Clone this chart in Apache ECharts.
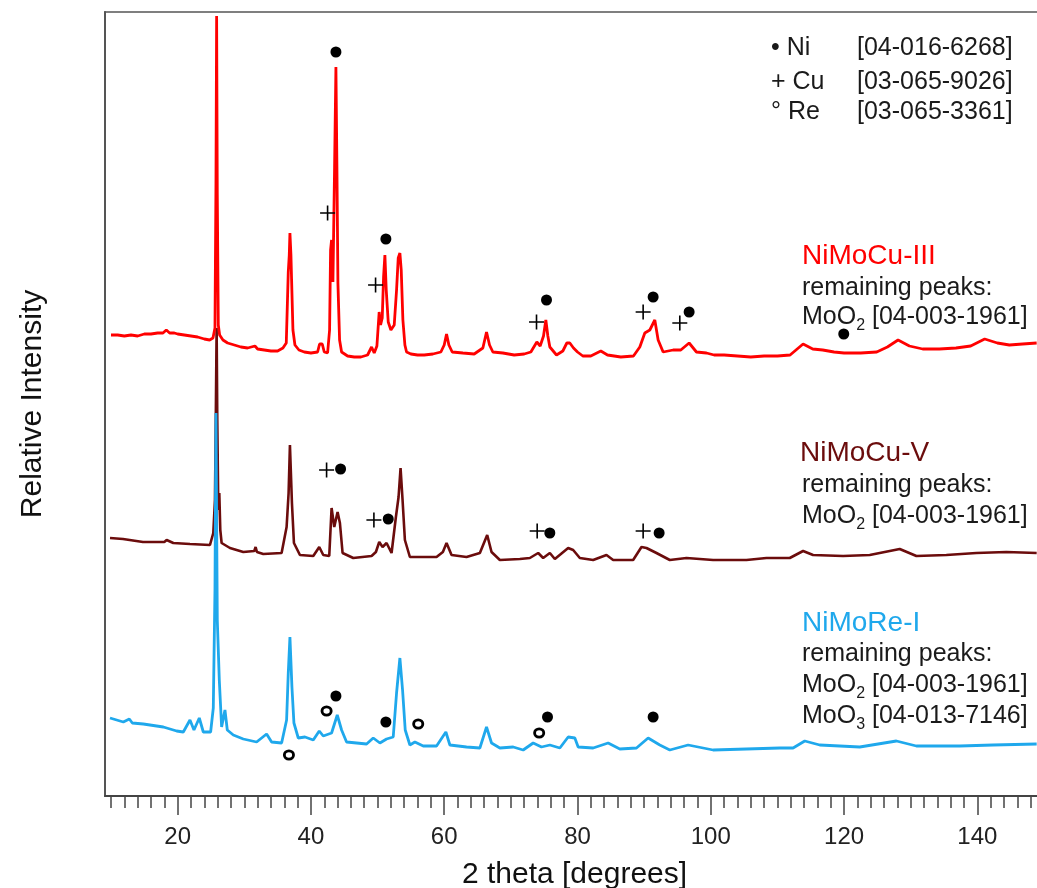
<!DOCTYPE html>
<html><head><meta charset="utf-8">
<script src="https://cdn.jsdelivr.net/npm/echarts@6/dist/echarts.min.js"></script>
<style>html,body{margin:0;padding:0;background:#fff}#c{width:1037px;height:888px}</style>
</head><body><div id="c"></div>
<script>
// ---------- data (2theta in degrees, intensity in arbitrary units above each pattern's floor) ----------
const X_MIN = 9.1, X_MAX = 150;
const Y_MIN = 0, Y_MAX = 784;
const MAJOR_TICKS = [20, 40, 60, 80, 100, 120, 140];
const MINOR_TICKS = [10,12,14,16,18,22,24,26,28,30,32,34,36,38,42,44,46,48,50,52,54,56,58,62,64,66,68,70,72,74,76,78,82,84,86,88,90,92,94,96,98,102,104,106,108,110,112,114,116,118,122,124,126,128,130,132,134,136,138,142,144,146,148];

const SAMPLE_NAMES = ['NiMoCu-III', 'NiMoCu-V', 'NiMoRe-I'];
const OFFSET_III = 440, OFFSET_V = 240, OFFSET_RE = 45;

const nimocu3 = [
[10.0,21],[11.0,21],[12.0,20],[13.0,21],[14.0,20],[15.0,22],[16.0,22],[17.0,23],[17.8,23],[18.3,26],[18.8,23],[19.5,23],[20.0,22],[21.0,21],[22.0,20],[23.0,19],[24.0,17],[24.8,16],[25.3,18],[25.6,28],[25.75,173],[25.85,340],[25.95,161],[26.1,31],[26.3,21],[26.8,16],[27.5,13],[28.5,11],[29.5,9],[30.5,8],[31.6,10],[32.0,7],[33.0,6],[34.0,5],[35.0,5],[35.8,8],[36.3,13],[36.6,84],[36.75,101],[36.85,123],[37.0,101],[37.1,76],[37.3,26],[37.6,11],[38.2,6],[39.0,4],[40.0,3],[41.0,4],[41.3,12],[41.7,12],[42.0,4],[42.5,3],[42.8,26],[42.95,106],[43.1,116],[43.3,74],[43.55,189],[43.75,289],[43.9,189],[44.05,73],[44.3,16],[44.6,4],[45.5,0],[46.5,-1],[47.5,-1],[48.5,1],[49.1,9],[49.5,3],[49.9,10],[50.24,44],[50.45,31],[50.7,38],[50.9,79],[51.1,101],[51.3,66],[51.6,34],[52.0,26],[52.5,31],[52.85,66],[53.1,98],[53.35,103],[53.55,86],[53.8,36],[54.1,11],[54.35,4],[55.0,2],[56.0,1],[57.0,1],[58.3,2],[59.5,4],[60.0,11],[60.35,22],[60.7,11],[61.2,4],[62.8,3],[64.5,2],[65.8,8],[66.35,24],[66.8,11],[67.3,4],[68.8,3],[70.5,1],[72.0,2],[73.0,4],[73.9,14],[74.4,10],[74.9,20],[75.25,36],[75.55,20],[75.85,9],[76.85,1],[77.8,5],[78.4,13],[78.85,13],[79.4,8],[80.0,4],[80.8,0],[82.0,0],[83.5,5],[84.5,1],[86.5,-1],[88.4,0],[89.35,9],[90.1,23],[90.85,26],[91.6,36],[92.1,16],[92.85,4],[94.35,6],[95.5,6],[96.75,13],[97.85,4],[99.35,3],[100.5,1],[102,1],[104,0],[106,-1],[108,0],[110,0],[111.9,1],[113.85,12],[115.3,7],[116.8,6],[118.5,4],[120,3],[122.5,3],[124.9,4],[126.5,9],[128.1,16],[129.8,10],[131.8,7],[134.3,7],[136.8,8],[139,10],[141.1,17],[143,13],[144.8,11],[146.8,12],[148.9,13]
];

const nimocu5 = [
[9.85,18],[11.8,17],[14.8,14],[18.0,14],[18.35,16],[19.35,13],[21.85,12],[24.85,11],[25.35,23],[25.6,56],[25.75,156],[25.85,228],[25.95,136],[26.1,46],[26.25,63],[26.4,26],[26.6,13],[27.85,8],[29.85,4],[31.5,5],[31.7,9],[31.9,4],[32.85,2],[35.6,3],[36.35,29],[36.65,63],[36.85,111],[37.15,53],[37.45,13],[38.35,1],[40.35,0],[41.25,9],[41.85,1],[42.75,0],[43.1,48],[43.5,29],[44.0,44],[44.35,33],[44.75,3],[46.35,-2],[49.1,0],[49.75,4],[50.25,14],[50.75,9],[51.35,13],[52.1,3],[52.75,39],[53.15,59],[53.45,88],[53.75,56],[54.1,16],[54.85,-1],[58.85,-1],[59.8,4],[60.35,13],[61.1,1],[63.35,-1],[65.35,3],[66.45,21],[67.1,4],[68.35,-4],[71.35,-3],[72.85,-2],[74.1,3],[74.85,-2],[75.85,3],[76.6,-3],[78.6,8],[79.35,6],[80.35,-2],[82.35,-4],[84.35,1],[85.35,-4],[88.35,-4],[89.6,9],[90.35,8],[91.85,3],[93.85,-4],[96.35,-2],[100.35,-4],[105.35,-4],[108.35,-2],[111.85,-2],[113.85,5],[115.35,1],[119.85,0],[123.85,1],[128.35,7],[130.85,0],[135.35,1],[139.85,3],[144.35,4],[148.9,3]
];

const nimore1 = [
[9.85,33],[11.85,29],[12.75,32],[13.2,28],[14.85,27],[17.85,24],[19.85,20],[20.85,19],[21.85,31],[22.45,21],[23.25,33],[23.85,19],[24.95,19],[25.35,43],[25.6,161],[25.75,338],[25.95,131],[26.25,71],[26.6,24],[27.1,41],[27.45,21],[28.35,16],[29.85,12],[31.85,9],[33.35,17],[34.1,9],[35.6,8],[36.35,31],[36.6,78],[36.85,114],[37.15,64],[37.45,28],[38.1,13],[39.1,14],[40.35,11],[41.25,20],[41.85,15],[43.1,18],[43.95,36],[44.6,21],[45.35,9],[48.35,7],[49.35,13],[50.35,8],[51.35,12],[52.35,14],[52.85,58],[53.35,93],[53.75,61],[54.15,21],[54.85,6],[55.6,9],[56.85,5],[58.85,5],[60.25,19],[60.85,6],[63.35,4],[65.35,3],[66.35,24],[67.1,8],[68.35,3],[70.35,4],[71.85,1],[73.35,8],[74.6,4],[75.85,6],[77.35,3],[78.6,14],[79.6,13],[80.1,4],[82.35,3],[84.6,8],[86.35,2],[88.85,3],[90.6,13],[92.35,6],[93.85,1],[96.6,6],[100.35,1],[105.35,2],[110.35,3],[112.35,3],[114.1,10],[116.35,6],[122.35,4],[127.85,10],[130.85,5],[137.35,5],[142.35,6],[148.9,7]
];

// phase markers [2theta, position on the intensity axis]
const niMarks = [[43.75,744],[51.25,557],[75.35,496],[91.35,499],[96.75,484],[119.95,462],
                 [44.45,327],[51.6,277],[75.85,263],[92.25,263],
                 [43.75,100],[51.25,74],[75.5,79],[91.35,79]];
const cuMarks = [[42.5,583],[49.7,511],[73.85,474],[89.85,484],[95.35,473],
                 [42.35,326],[49.45,276],[73.95,265],[89.85,265]];
const reMarks = [[36.7,41],[42.35,85],[56.1,72],[74.25,63]];

// ---------- chart ----------
const FONT = '"Liberation Sans", Arial, sans-serif';
const COL_III = '#ff0000', COL_V = '#6b0c0c', COL_RE = '#1fa8ec';
const shift = (arr, off) => arr.map(p => [p[0], p[1] + off]);

const chart = echarts.init(document.getElementById('c'), null, {renderer: 'canvas'});
const G = {left: 105, top: 12, width: 939, height: 784, containLabel: false, outerBoundsMode: 'none'};

function line(text, x, y, size, color) {
  return {type: 'text', x: x, y: y, silent: true,
    style: {text: text, fontSize: size, fontFamily: FONT, fill: color, verticalAlign: 'middle', align: 'left'}};
}
function formula(base, sub, rest, x, y) {
  return {type: 'text', x: x, y: y, silent: true,
    style: {text: '{t|' + base + '}{s|' + sub + '}{t|' + rest + '}', verticalAlign: 'middle', align: 'left',
      rich: {t: {fontSize: 25, lineHeight: 34, fontFamily: FONT, fill: '#1a1a1a'},
             s: {fontSize: 16, lineHeight: 16, verticalAlign: 'bottom', fontFamily: FONT, fill: '#1a1a1a'}}}};
}
// ring shaped symbol (letter-like "o")
const RING = 'path://M0,5A5.5,5,0,1,0,11,5A5.5,5,0,1,0,0,5ZM2.6,5A2.9,2.4,0,1,1,8.4,5A2.9,2.4,0,1,1,2.6,5Z';

const option = {
  animation: false,
  backgroundColor: '#fff',
  grid: [Object.assign({show: true, borderColor: '#555', borderWidth: 1.5}, G), Object.assign({}, G)],
  xAxis: [{
    gridIndex: 0, type: 'value', min: X_MIN, max: X_MAX,
    axisLine: {show: true, lineStyle: {color: '#444', width: 2}},
    axisTick: {show: true, customValues: MAJOR_TICKS, length: 19, lineStyle: {color: '#444', width: 1.5}},
    axisLabel: {show: true, customValues: MAJOR_TICKS, fontSize: 24, fontFamily: FONT, color: '#222', margin: 29},
    splitLine: {show: false},
    name: '2 theta [degrees]', nameLocation: 'middle', nameGap: 64,
    nameTextStyle: {fontSize: 30, fontFamily: FONT, color: '#111'}
  }, {
    gridIndex: 1, type: 'value', min: X_MIN, max: X_MAX,
    axisLine: {show: false},
    axisTick: {show: true, customValues: MINOR_TICKS, length: 12, lineStyle: {color: '#444', width: 1.5}},
    axisLabel: {show: false}, splitLine: {show: false}
  }],
  yAxis: [{
    gridIndex: 0, type: 'value', min: Y_MIN, max: Y_MAX,
    axisLine: {show: true, lineStyle: {color: '#555', width: 2}},
    axisTick: {show: false}, axisLabel: {show: false}, splitLine: {show: false},
    name: 'Relative Intensity', nameLocation: 'middle', nameGap: 57,
    nameTextStyle: {fontSize: 30, fontFamily: FONT, color: '#111'}
  }, {
    gridIndex: 1, type: 'value', min: Y_MIN, max: Y_MAX, show: false
  }],
  series: [
    {name: SAMPLE_NAMES[1], type: 'line', data: shift(nimocu5, OFFSET_V), showSymbol: false, z: 2,
     lineStyle: {color: COL_V, width: 2.6}},
    {name: SAMPLE_NAMES[2], type: 'line', data: shift(nimore1, OFFSET_RE), showSymbol: false, z: 3,
     lineStyle: {color: COL_RE, width: 2.8}},
    {name: SAMPLE_NAMES[0], type: 'line', data: shift(nimocu3, OFFSET_III), showSymbol: false, z: 4,
     lineStyle: {color: COL_III, width: 2.8}},
    {name: 'Ni', type: 'scatter', data: niMarks, symbol: 'circle', symbolSize: 11, z: 6,
     itemStyle: {color: '#000', opacity: 1}},
    {name: 'Cu', type: 'scatter', data: cuMarks, symbol: 'path://M0,7L14,7M7,0L7,14', symbolSize: 15, z: 6,
     itemStyle: {color: 'transparent', borderColor: '#000', borderWidth: 1.6, opacity: 1}},
    {name: 'Re', type: 'scatter', data: reMarks, symbol: RING, symbolSize: [12, 11], z: 6,
     itemStyle: {color: '#000', opacity: 1}}
  ],
  graphic: [
    line('• Ni', 771, 48, 25, '#1a1a1a'), line('[04-016-6268]', 857, 48, 25, '#1a1a1a'),
    line('+ Cu', 771, 82, 25, '#1a1a1a'), line('[03-065-9026]', 857, 82, 25, '#1a1a1a'),
    line('° Re', 771, 112, 25, '#1a1a1a'), line('[03-065-3361]', 857, 112, 25, '#1a1a1a'),

    line(SAMPLE_NAMES[0], 802, 256, 28, COL_III),
    line('remaining peaks:', 802, 288, 25, '#1a1a1a'),
    formula('MoO', '2', ' [04-003-1961]', 802, 317),

    line(SAMPLE_NAMES[1], 800, 453, 28, COL_V),
    line('remaining peaks:', 802, 485, 25, '#1a1a1a'),
    formula('MoO', '2', ' [04-003-1961]', 802, 516),

    line(SAMPLE_NAMES[2], 802, 623, 28, COL_RE),
    line('remaining peaks:', 802, 654, 25, '#1a1a1a'),
    formula('MoO', '2', ' [04-003-1961]', 802, 685),
    formula('MoO', '3', ' [04-013-7146]', 802, 716)
  ]
};
chart.setOption(option);
</script></body></html>
